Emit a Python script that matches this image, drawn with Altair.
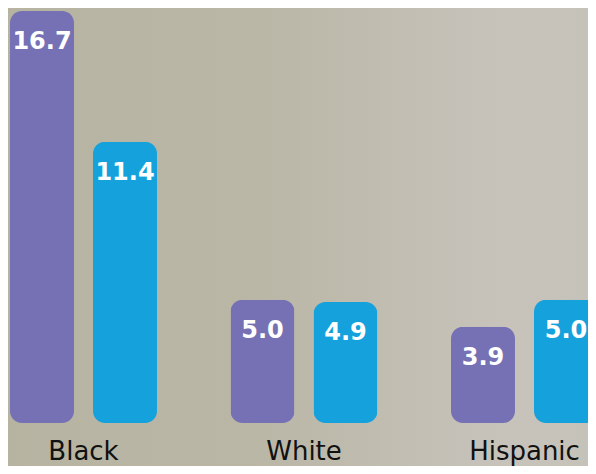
import altair as alt
import pandas as pd

categories = ["Black", "White", "Hispanic"]
series = ["A", "B"]
values_a = [16.7, 5.0, 3.9]
values_b = [11.4, 4.9, 5.0]
labels_a = ["16.7", "5.0", "3.9"]
labels_b = ["11.4", "4.9", "5.0"]
colors = ["#7571b4", "#15a1dc"]

rows = []
for i, c in enumerate(categories):
    rows.append({"cat": c, "series": "A", "value": values_a[i], "label": labels_a[i]})
    rows.append({"cat": c, "series": "B", "value": values_b[i], "label": labels_b[i]})
df = pd.DataFrame(rows)

W, H = 580, 458

x_scale = alt.Scale(domain=categories, range=[-34.75, 626.75], paddingInner=0, paddingOuter=0)
xo_scale = alt.Scale(domain=series, paddingInner=0.229, paddingOuter=0.4428)
y_scale = alt.Scale(domain=[0, 16.82], range=[415, 0], nice=False, zero=True)
col_scale = alt.Scale(domain=series, range=colors)

bg = alt.Chart(pd.DataFrame({"k": [0]})).mark_rect(
    color=alt.LinearGradient(
        gradient="linear",
        x1=0, x2=1, y1=0, y2=0,
        stops=[
            alt.GradientStop(color="#b6b3a1", offset=0),
            alt.GradientStop(color="#bab7a7", offset=0.45),
            alt.GradientStop(color="#c7c3bb", offset=0.85),
            alt.GradientStop(color="#c5c2b9", offset=1),
        ],
    )
).encode(x=alt.value(-10), x2=alt.value(W + 10), y=alt.value(-10), y2=alt.value(H + 10))

base = alt.Chart(df).encode(
    x=alt.X("cat:N", scale=x_scale, sort=categories,
            axis=alt.Axis(title=None, domain=False, ticks=False, tickSize=0, labelAngle=0,
                          labelFont="DejaVu Sans", labelFontSize=26, labelColor="#111111",
                          labelBaseline="alphabetic", labelPadding=-7, grid=False,
                          labelOverlap=False, zindex=2)),
    xOffset=alt.XOffset("series:N", scale=xo_scale, sort=series),
)

bars = base.mark_bar(cornerRadius=12).encode(
    y=alt.Y("value:Q", scale=y_scale, axis=None),
    color=alt.Color("series:N", scale=col_scale, legend=None),
)

text = base.mark_text(
    font="DejaVu Sans", fontWeight="bold", fontSize=24, color="white",
    baseline="alphabetic", dy=38, align="center"
).encode(
    y=alt.Y("value:Q", scale=y_scale, axis=None),
    text="label:N",
)

chart = alt.layer(bg, bars, text).properties(
    width=W, height=H,
    autosize=alt.AutoSizeParams(type="none"),
    padding=0,
).configure_view(stroke=None).configure(background="#b9b6a6")

chart.save("out.html", embed_options={"renderer": "svg", "actions": False})
